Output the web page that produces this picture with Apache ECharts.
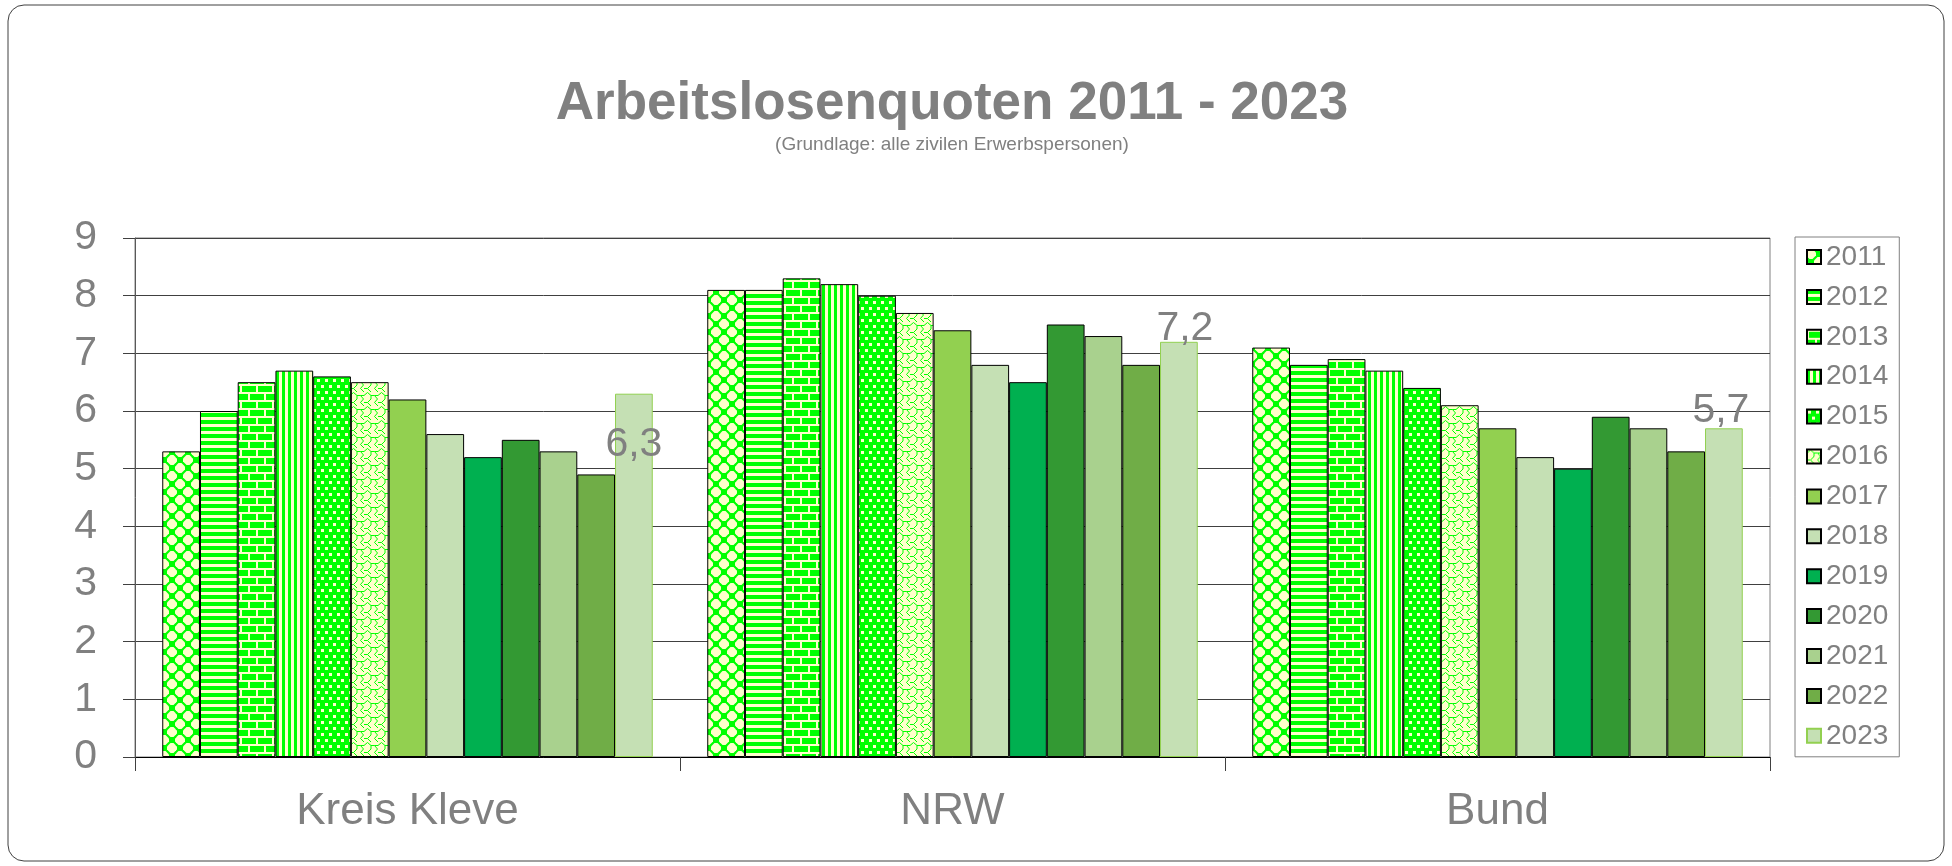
<!DOCTYPE html>
<html>
<head>
<meta charset="utf-8">
<script src="https://cdn.jsdelivr.net/npm/echarts/dist/echarts.min.js"></script>
<style>
  html, body { margin: 0; padding: 0; background: #fff; }
  #main { width: 1952px; height: 866px; }
</style>
</head>
<body>
<div id="main"></div>
<script>
// Daten
var regions = ['Kreis Kleve', 'NRW', 'Bund'];
var years = ['2011', '2012', '2013', '2014', '2015', '2016', '2017', '2018', '2019', '2020', '2021', '2022', '2023'];
var kleve = [5.3, 6.0, 6.5, 6.7, 6.6, 6.5, 6.2, 5.6, 5.2, 5.5, 5.3, 4.9, 6.3];
var nrw   = [8.1, 8.1, 8.3, 8.2, 8.0, 7.7, 7.4, 6.8, 6.5, 7.5, 7.3, 6.8, 7.2];
var bund  = [7.1, 6.8, 6.9, 6.7, 6.4, 6.1, 5.7, 5.2, 5.0, 5.9, 5.7, 5.3, 5.7];
var yTicks = [0, 1, 2, 3, 4, 5, 6, 7, 8, 9];

var G = '#00FF00', Y = '#FFFFCC';

// kleine Musterkacheln
function tile(w, h, draw) {
    var c = document.createElement('canvas');
    c.width = w; c.height = h;
    var g = c.getContext('2d');
    draw(g, w, h);
    return { image: c, repeat: 'repeat' };
}
// abgerundete Raute
function blob(g, cx, cy) {
    g.beginPath();
    g.moveTo(cx - 1.5, cy - 5); g.lineTo(cx + 1.5, cy - 5);
    g.lineTo(cx + 5, cy - 1.5); g.lineTo(cx + 5, cy + 1.5);
    g.lineTo(cx + 1.5, cy + 5); g.lineTo(cx - 1.5, cy + 5);
    g.lineTo(cx - 5, cy + 1.5); g.lineTo(cx - 5, cy - 1.5);
    g.closePath(); g.fill();
}
var patterns = [
    tile(16, 16, function (g) {
        g.fillStyle = G; g.fillRect(0, 0, 16, 16);
        g.fillStyle = Y;
        blob(g, 4, 4); blob(g, 12, 12);
        blob(g, 20, 4); blob(g, -4, 12);
        blob(g, 4, 20); blob(g, 12, -4);
    }),
    tile(2, 7, function (g) {
        g.fillStyle = Y; g.fillRect(0, 0, 2, 7);
        g.fillStyle = G; g.fillRect(0, 0, 2, 4);
    }),
    tile(16, 16, function (g) {
        g.fillStyle = G; g.fillRect(0, 0, 16, 16);
        g.fillStyle = Y;
        g.fillRect(0, 0, 16, 2); g.fillRect(0, 8, 16, 2);
        g.fillRect(0, 0, 2, 8); g.fillRect(8, 8, 2, 8);
    }),
    tile(6, 2, function (g) {
        g.fillStyle = Y; g.fillRect(0, 0, 6, 2);
        g.fillStyle = G; g.fillRect(0, 0, 3, 2);
    }),
    tile(8, 12, function (g) {
        g.fillStyle = G; g.fillRect(0, 0, 8, 12);
        g.fillStyle = Y;
        g.fillRect(1, 1, 3, 3); g.fillRect(5, 7, 3, 3);
    }),
    tile(14, 14, function (g) {
        g.fillStyle = Y; g.fillRect(0, 0, 14, 14);
        g.strokeStyle = G; g.lineWidth = 1;
        g.beginPath();
        g.moveTo(0, 3.5); g.lineTo(3.5, 0.5); g.lineTo(7, 3.5); g.lineTo(10.5, 3.5); g.lineTo(14, 3.5);
        g.moveTo(7, 3.5); g.lineTo(7, 7); g.lineTo(3.5, 10.5); g.lineTo(7, 14);
        g.moveTo(0, 10.5); g.lineTo(3.5, 10.5);
        g.moveTo(10.5, 3.5); g.lineTo(13.5, 7); g.lineTo(10.5, 10.5); g.lineTo(14, 14);
        g.stroke();
    })
];
var solid = ['#92D050', '#C5E0B4', '#00B050', '#339933', '#A9D18E', '#70AD47', '#C5E0B4'];

var myChart = echarts.init(document.getElementById('main'));

var series = years.map(function (y, i) {
    var fill = i < 6 ? patterns[i] : solid[i - 6];
    var last = i === years.length - 1;
    var s = {
        name: y,
        type: 'bar',
        barGap: '0%',
        barCategoryGap: '10%',
        itemStyle: {
            color: fill,
            borderColor: last ? '#92D050' : '#000',
            borderWidth: 1
        },
        data: [kleve[i], nrw[i], bund[i]]
    };
    if (last) {
        s.label = {
            show: true,
            position: 'top',
            color: '#808080',
            fontSize: 41,
            fontFamily: 'Liberation Sans',
            formatter: function (p) { return String(p.value).replace('.', ','); }
        };
        s.data = [
            { value: kleve[i], label: { offset: [0, 76] } },
            { value: nrw[i], label: { offset: [6, 12] } },
            { value: bund[i], label: { offset: [-3, 8] } }
        ];
    }
    return s;
});

var option = {
    backgroundColor: '#fff',
    animation: false,
    textStyle: { fontFamily: 'Liberation Sans' },
    graphic: [
        {
            type: 'rect',
            shape: { x: 8, y: 5, width: 1936, height: 856, r: 16 },
            style: { fill: 'none', stroke: '#404040', lineWidth: 1 }
        },
        {
            type: 'text', x: 952, y: 104,
            style: {
                text: 'Arbeitslosenquoten 2011 - 2023',
                font: 'bold 53px "Liberation Sans"',
                fill: '#808080', align: 'center', verticalAlign: 'middle'
            }
        },
        {
            type: 'text', x: 952, y: 145,
            style: {
                text: '(Grundlage: alle zivilen Erwerbspersonen)',
                font: '19px "Liberation Sans"',
                fill: '#808080', align: 'center', verticalAlign: 'middle'
            }
        }
    ],
    legend: {
        orient: 'vertical',
        left: 1795,
        top: 237,
        data: years,
        icon: 'rect',
        itemWidth: 14,
        itemHeight: 14,
        itemGap: 9.9,
        itemTextGap: 8,
        padding: [5, 11, 6, 11],
        borderColor: '#808080',
        borderWidth: 1,
        textStyle: { color: '#808080', fontSize: 28, lineHeight: 30, fontFamily: 'Liberation Sans' }
    },
    grid: {
        left: 135,
        right: 182,
        top: 238,
        bottom: 109,
        containLabel: false,
        show: true,
        borderColor: '#808080',
        borderWidth: 1
    },
    xAxis: {
        type: 'category',
        data: regions,
        axisLine: { lineStyle: { color: '#000', width: 1 } },
        axisTick: { show: true, length: 14, lineStyle: { color: '#404040' } },
        axisLabel: { color: '#808080', fontSize: 44, margin: 33, fontFamily: 'Liberation Sans' }
    },
    yAxis: {
        type: 'value',
        min: yTicks[0],
        max: yTicks[yTicks.length - 1],
        interval: 1,
        axisLine: { show: true, lineStyle: { color: '#595959', width: 1 } },
        axisTick: { show: true, length: 12, lineStyle: { color: '#404040' } },
        axisLabel: { color: '#808080', fontSize: 41, margin: 38, fontFamily: 'Liberation Sans' },
        splitLine: { lineStyle: { color: '#404040', width: 1 } }
    },
    series: series
};

myChart.setOption(option);
</script>
</body>
</html>
